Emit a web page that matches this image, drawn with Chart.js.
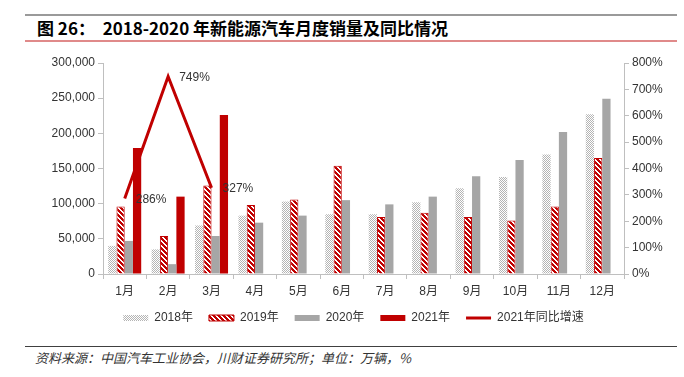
<!DOCTYPE html>
<html>
<head>
<meta charset="utf-8">
<script src="https://cdn.jsdelivr.net/npm/chart.js@4.4.1/dist/chart.umd.min.js"></script>
<style>
body{margin:0;width:684px;height:377px;background:#fff;position:relative;overflow:hidden;font-family:"Liberation Sans","Noto Sans CJK SC",sans-serif}
#topline{position:absolute;left:25px;top:14px;width:652px;height:2px;background:#9a9a9a}
#title{position:absolute;left:37px;top:17px;font:bold 17px "Noto Sans CJK SC";line-height:22px;color:#000;white-space:pre}
#redline{position:absolute;left:25px;top:40px;width:652px;height:2px;background:#e08a8a}
#chartbox{position:absolute;left:0;top:50px}
#footline{position:absolute;left:25px;top:346px;width:652px;height:1px;background:#404040}
#source{position:absolute;left:35px;top:349px;font:italic 13px "Noto Sans CJK SC";line-height:18px;color:#333}
</style>
</head>
<body>
<div id="topline"></div>
<div id="title">图 26：  2018-2020 年新能源汽车月度销量及同比情况</div>
<div id="redline"></div>
<div id="chartbox"><canvas id="myChart" width="684" height="284"></canvas></div>
<div id="footline"></div>
<div id="source">资料来源：中国汽车工业协会，川财证券研究所；单位：万辆，%</div>
<script>
var months = ['1月', '2月', '3月', '4月', '5月', '6月', '7月', '8月', '9月', '10月', '11月', '12月'];
var sales2018 = [40000, 35000, 69000, 83000, 103000, 85000, 85000, 102000, 122000, 138000, 170000, 227000];
var sales2019 = [96000, 54000, 126000, 98000, 106000, 154000, 81000, 87000, 81000, 76000, 96000, 165000];
var sales2020 = [47000, 14000, 54000, 73000, 83000, 105000, 99000, 110000, 139000, 162000, 202000, 249000];
var sales2021 = [179000, 110000, 226000, null, null, null, null, null, null, null, null, null];
var yoy2021 = [286, 749, 327, null, null, null, null, null, null, null, null, null];
var leftTicks = [0, 50000, 100000, 150000, 200000, 250000, 300000];
var rightTicks = [0, 100, 200, 300, 400, 500, 600, 700, 800];

var red = '#c00000';
var axisColor = '#bfbfbf';
var textColor = '#333333';

function checkerPattern() {
    var c = document.createElement('canvas');
    c.width = 2; c.height = 2;
    var g = c.getContext('2d');
    g.fillStyle = '#ffffff';
    g.fillRect(0, 0, 2, 2);
    g.fillStyle = '#b4b4b4';
    g.fillRect(0, 0, 1, 1);
    g.fillRect(1, 1, 1, 1);
    return g.createPattern(c, 'repeat');
}
function stripePattern() {
    var n = 5;
    var c = document.createElement('canvas');
    c.width = n; c.height = n;
    var g = c.getContext('2d');
    for (var x = 0; x < n; x++) {
        for (var y = 0; y < n; y++) {
            g.fillStyle = ((x - y + n) % n) < 2 ? '#ffffff' : red;
            g.fillRect(x, y, 1, 1);
        }
    }
    return g.createPattern(c, 'repeat');
}

// labels next to the line points
var pointLabels = {
    id: 'pointLabels',
    afterDatasetsDraw: function (chart) {
        var meta = chart.getDatasetMeta(4);
        var ctx = chart.ctx;
        ctx.save();
        ctx.font = '12px "Liberation Sans", sans-serif';
        ctx.fillStyle = textColor;
        ctx.textAlign = 'left';
        ctx.textBaseline = 'middle';
        meta.data.forEach(function (pt, i) {
            if (yoy2021[i] == null) return;
            ctx.fillText(yoy2021[i] + '%', pt.x + 11, pt.y + 1);
        });
        ctx.restore();
    }
};

function initGraph() {
    var data = {
        labels: months,
        datasets: [
            { type: 'bar', label: '2018年', data: sales2018, backgroundColor: checkerPattern(), borderWidth: 0, pointStyle: 'rect', yAxisID: 'y' },
            { type: 'bar', label: '2019年', data: sales2019, backgroundColor: stripePattern(), borderColor: red, borderWidth: 1, pointStyle: 'rect', yAxisID: 'y' },
            { type: 'bar', label: '2020年', data: sales2020, backgroundColor: '#a6a6a6', borderWidth: 0, pointStyle: 'rect', yAxisID: 'y' },
            { type: 'bar', label: '2021年', data: sales2021, backgroundColor: red, borderWidth: 0, pointStyle: 'rect', yAxisID: 'y' },
            { type: 'line', label: '2021年同比增速      ', data: yoy2021, borderColor: red, backgroundColor: red, borderWidth: 3, pointRadius: 0, pointStyle: 'line', tension: 0, spanGaps: false, order: -1, yAxisID: 'y1' }
        ]
    };
    var config = {
        type: 'bar',
        data: data,
        options: {
            responsive: false,
            animation: false,
            devicePixelRatio: 1,
            layout: { padding: { top: 13, left: 0, right: 0, bottom: 0 } },
            datasets: { bar: { categoryPercentage: 0.76, barPercentage: 1.0 } },
            plugins: {
                tooltip: { enabled: false },
                legend: {
                    position: 'bottom',
                    fullSize: false,
                    labels: {
                        usePointStyle: true,
                        pointStyleWidth: 25,
                        boxHeight: 6,
                        padding: 16,
                        color: textColor,
                        font: { size: 12, family: '"Liberation Sans", "Noto Sans CJK SC", sans-serif' },
                        sort: function (a, b) { return a.datasetIndex - b.datasetIndex; }
                    }
                }
            },
            scales: {
                x: {
                    offset: true,
                    grid: { offset: true, drawOnChartArea: false, drawTicks: true, tickLength: 5, color: axisColor },
                    border: { color: axisColor },
                    ticks: { color: textColor, padding: 5, font: { size: 12, family: '"Liberation Sans", "Noto Sans CJK SC", sans-serif' } },
                    afterFit: function (s) { s.height = 22; }
                },
                y: {
                    position: 'left',
                    min: leftTicks[0],
                    max: leftTicks[leftTicks.length - 1],
                    afterBuildTicks: function (s) { s.ticks = leftTicks.map(function (v) { return { value: v }; }); },
                    ticks: { color: textColor, padding: 3, font: { size: 12 }, callback: function (v) { return v.toLocaleString('en-US'); } },
                    grid: { drawOnChartArea: false, tickLength: 5, color: axisColor },
                    border: { color: axisColor },
                    afterFit: function (s) { s.width = 103; }
                },
                y1: {
                    position: 'right',
                    min: rightTicks[0],
                    max: rightTicks[rightTicks.length - 1],
                    afterBuildTicks: function (s) { s.ticks = rightTicks.map(function (v) { return { value: v }; }); },
                    ticks: { color: textColor, padding: 3, font: { size: 12 }, callback: function (v) { return v + '%'; } },
                    grid: { drawOnChartArea: false, tickLength: 5, color: axisColor },
                    border: { color: axisColor },
                    afterFit: function (s) { s.width = 60; }
                }
            }
        },
        plugins: [pointLabels]
    };
    var myChart = new Chart(document.getElementById('myChart'), config);
}
initGraph();
</script>
</body>
</html>
